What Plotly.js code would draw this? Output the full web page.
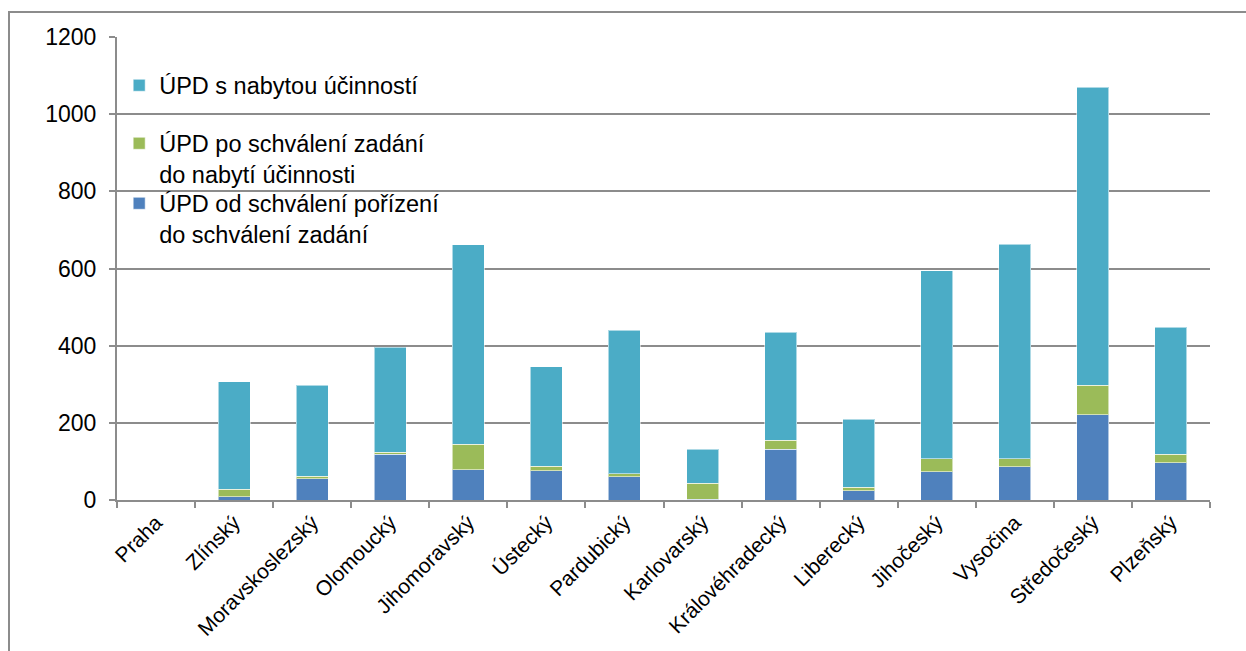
<!DOCTYPE html>
<html>
<head>
<meta charset="utf-8">
<script src="https://cdn.plot.ly/plotly-3.0.1.min.js"></script>
<style>
html,body{margin:0;padding:0;overflow:hidden;background:#fff;}
#frame{position:absolute;left:8px;top:11px;width:1400px;height:800px;border:2px solid #8C8C8C;pointer-events:none;}
#chart{width:1246px;height:651px;}
</style>
</head>
<body>
<div id="chart"></div>
<div id="frame"></div>
<script>
var categories = ["Praha","Zlínský","Moravskoslezský","Olomoucký","Jihomoravský","Ústecký","Pardubický","Karlovarský","Královéhradecký","Liberecký","Jihočeský","Vysočina","Středočeský","Plzeňský"];
var odSchvaleniPorizeni = [1, 8, 55, 119, 78, 76, 60, 2, 132, 24, 73, 86, 221, 96];
var poSchvaleniZadani = [0, 20, 7, 5, 67, 12, 8, 41, 23, 9, 34, 21, 77, 23];
var sNabytouUcinnosti = [0, 278, 236, 272, 516, 257, 372, 89, 280, 176, 487, 556, 772, 329];
var seriesNames = ["ÚPD od schválení pořízení<br>do schválení zadání", "ÚPD po schválení zadání<br>do nabytí účinnosti", "ÚPD s nabytou účinností"];
var seriesColors = ["#4F81BD", "#9BBB59", "#4BACC6"];
var yTicks = [0, 200, 400, 600, 800, 1000, 1200];

var font = "Liberation Sans, Arial, sans-serif";
var legendIds = ["legend3", "legend2", "legend"];
var allSeries = [odSchvaleniPorizeni, poSchvaleniZadani, sNabytouUcinnosti];
var traces = allSeries.map(function(vals, i){
  return {
    type: "bar",
    x: categories,
    y: vals,
    name: seriesNames[i],
    legend: legendIds[i],
    marker: {color: seriesColors[i], line: {color: "rgba(255,255,255,0.55)", width: 1}},
    hoverinfo: "x+y+name"
  };
});

function legendAt(yPos){
  return {
    x: 0.002, xanchor: "left", y: yPos, yanchor: "top",
    bgcolor: "rgba(0,0,0,0)",
    valign: "top",
    font: {family: font, size: 23.5, color: "#000"},
    itemclick: false
  };
}

var layout = {
  width: 1246, height: 651,
  margin: {l: 117, r: 36, t: 37, b: 151},
  paper_bgcolor: "rgba(0,0,0,0)",
  plot_bgcolor: "rgba(0,0,0,0)",
  barmode: "stack",
  bargap: 0.59,
  font: {family: font, size: 22, color: "#000"},
  showlegend: true,
  legend: legendAt(0.9428),
  legend2: legendAt(0.8175),
  legend3: legendAt(0.6879),
  xaxis: {
    type: "category",
    tickangle: -45,
    tickfont: {family: font, size: 21, color: "#000"},
    ticks: "outside", tickson: "boundaries", ticklen: 6, tickcolor: "#8C8C8C", tickwidth: 2,
    showline: true, linecolor: "#8C8C8C", linewidth: 2,
    showgrid: false, zeroline: false
  },
  yaxis: {
    range: [0, 1200],
    tickvals: yTicks,
    ticktext: yTicks.map(String),
    tickfont: {family: font, size: 23, color: "#000"},
    ticks: "outside", ticklen: 6, tickcolor: "#8C8C8C", tickwidth: 2,
    ticklabelstandoff: 8,
    showline: true, linecolor: "#8C8C8C", linewidth: 2,
    showgrid: true, gridcolor: "#8C8C8C", gridwidth: 2,
    zeroline: false
  }
};

Plotly.newPlot("chart", traces, layout, {displayModeBar: false});
</script>
</body>
</html>
